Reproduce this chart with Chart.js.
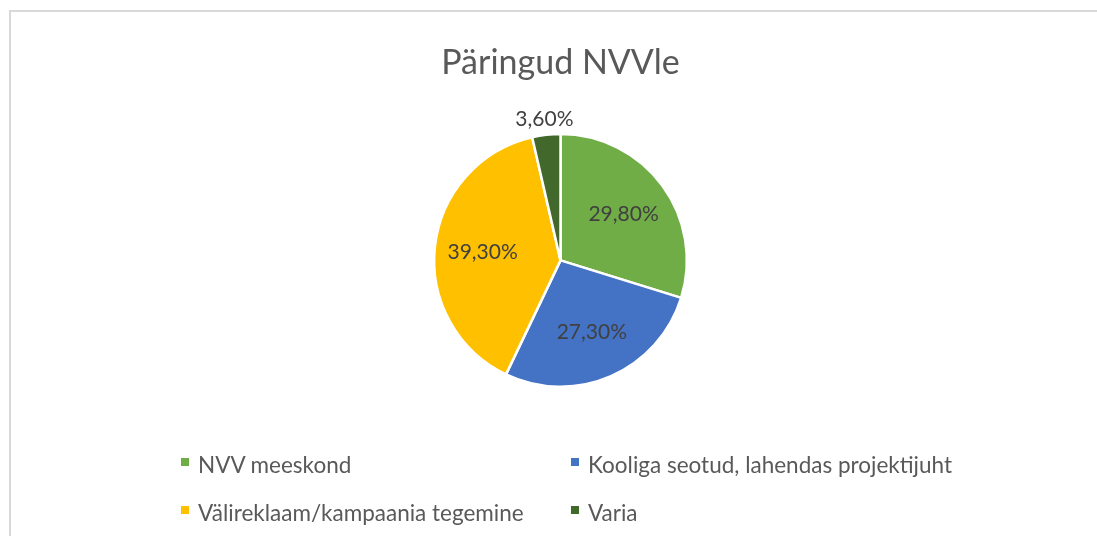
<!DOCTYPE html>
<html>
<head>
<meta charset="utf-8">
<script src="https://cdn.jsdelivr.net/npm/chart.js@4.4.1/dist/chart.umd.min.js"></script>
<style>
  html, body { margin: 0; padding: 0; background: #fff; overflow: hidden; }
  #wrap { position: relative; width: 1097px; height: 536px; }
  #frame { position: absolute; left: 9px; top: 10px; width: 1200px; height: 600px;
           border: 2px solid #d9d9d9; box-sizing: border-box; }
  #pie { position: absolute; left: 0; top: 0; }
  #legend { position: absolute; left: 0; top: 0; font-family: Lato, sans-serif;
            font-size: 22.5px; color: #595959; }
  .item { position: absolute; white-space: nowrap; line-height: 30px; }
  .box { display: inline-block; width: 8px; height: 8px; margin-right: 9px; vertical-align: 7px; }
</style>
</head>
<body>
<div id="wrap">
  <div id="frame"></div>
  <canvas id="pie" width="1097" height="536"></canvas>
  <div id="legend"></div>
</div>
<script>
// ---- data ----
const categories = ["NVV meeskond", "Kooliga seotud, lahendas projektijuht", "Välireklaam/kampaania tegemine", "Varia"];
const shares = [29.8, 27.3, 39.3, 3.6];
const colors = ["#70AD47", "#4472C4", "#FFC000", "#43682B"];
const chartTitle = "Päringud NVVle";

// legend spots (2 columns, Excel style)
const legendSpots = [[181, 450], [571, 450], [181, 498], [571, 498]];

function fmt(v) {
  return v.toFixed(2).replace(".", ",") + "%";
}

// labels on slices
const sliceLabels = {
  id: "sliceLabels",
  afterDatasetsDraw(chart) {
    const ctx = chart.ctx;
    const meta = chart.getDatasetMeta(0);
    ctx.save();
    ctx.font = "21px Lato, sans-serif";
    ctx.fillStyle = "#404040";
    ctx.textAlign = "center";
    ctx.textBaseline = "middle";
    meta.data.forEach((arc, i) => {
      const mid = (arc.startAngle + arc.endAngle) / 2;
      let r = arc.outerRadius * 0.62;
      if (shares[i] < 5) r = arc.outerRadius + 16;
      const x = arc.x + Math.cos(mid) * r;
      const y = arc.y + Math.sin(mid) * r;
      ctx.fillText(fmt(shares[i]), x, y);
    });
    ctx.restore();
  }
};

new Chart(document.getElementById("pie"), {
  type: "pie",
  data: {
    labels: categories,
    datasets: [{
      data: shares,
      backgroundColor: colors,
      borderColor: "#ffffff",
      borderWidth: 2.5
    }]
  },
  options: {
    responsive: false,
    animation: false,
    layout: { padding: { left: 24, right: 0, top: 10, bottom: 148 } },
    plugins: {
      legend: { display: false },
      tooltip: { enabled: false },
      title: {
        display: true,
        text: chartTitle,
        color: "#595959",
        font: { family: "Lato, sans-serif", size: 34, weight: "normal" },
        padding: { top: 33, bottom: 49 }
      }
    }
  },
  plugins: [sliceLabels]
});

// legend as html
const legend = document.getElementById("legend");
categories.forEach((name, i) => {
  const d = document.createElement("div");
  d.className = "item";
  d.style.left = legendSpots[i][0] + "px";
  d.style.top = legendSpots[i][1] + "px";
  d.innerHTML = '<span class="box" style="background:' + colors[i] + '"></span>' + name;
  legend.appendChild(d);
});
</script>
</body>
</html>
